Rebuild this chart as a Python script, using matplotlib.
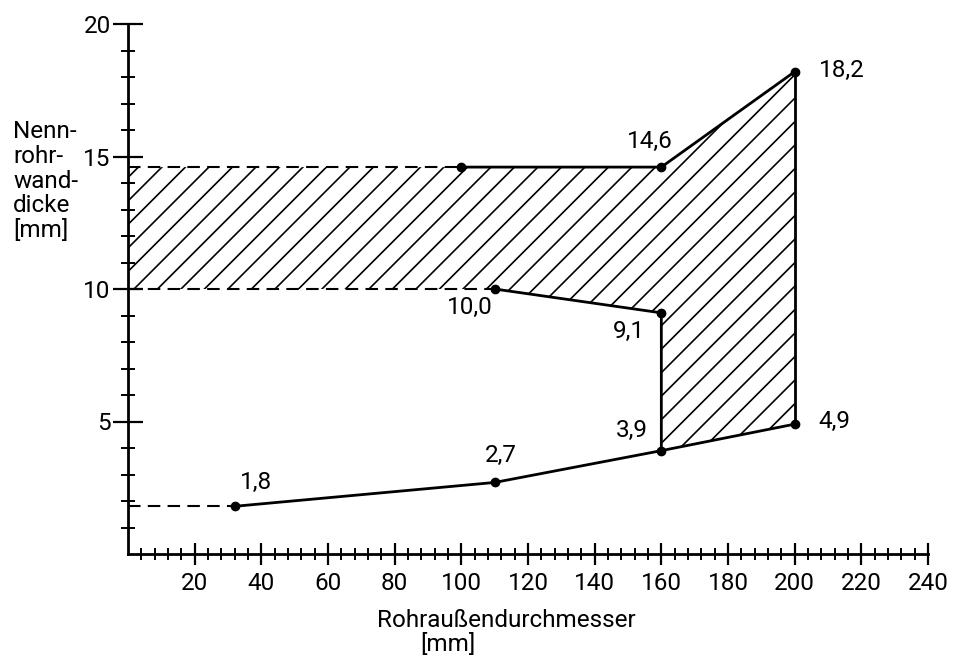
import numpy as np
import matplotlib
matplotlib.use("Agg")
import matplotlib.pyplot as plt
from matplotlib.patches import Polygon

plt.rcParams['font.family'] = ['Roboto', 'DejaVu Sans']
FS = 17.5

# ---- data ----
upper_x = [100, 160, 200]
upper_y = [14.6, 14.6, 18.2]
mid_x = [110, 160]
mid_y = [10.0, 9.1]
low_x = [32, 110, 160, 200]
low_y = [1.8, 2.7, 3.9, 4.9]

x_ticks = list(range(20, 241, 20))
y_ticks = [5, 10, 15, 20]
y_label = "Nenn-\nrohr-\nwand-\ndicke\n[mm]"
x_label = "Rohraußendurchmesser"
x_unit = "[mm]"

def fmt(v):
    return f"{v:.1f}".replace('.', ',')

# ---- figure ----
fig = plt.figure(figsize=(9.6, 6.57), dpi=100)
ax = fig.add_axes([128/960, 1 - 554/657, 800/960, 530/657])
ax.set_xlim(0, 240)
ax.set_ylim(0, 20)
ax.spines['top'].set_visible(False)
ax.spines['right'].set_visible(False)
ax.spines['left'].set_linewidth(2.0)
ax.spines['bottom'].set_linewidth(2.0)
ax.patch.set_alpha(0)

ax.set_xticks(x_ticks)
ax.set_xticks(np.arange(4, 240, 4), minor=True)
ax.set_yticks(y_ticks)
ax.set_yticks(np.arange(1, 20, 1), minor=True)
ax.set_xticklabels([str(t) for t in x_ticks])
ax.set_yticklabels([str(t) for t in y_ticks])
ax.tick_params(axis='x', which='major', direction='inout', length=16, width=1.6,
               labelsize=FS, pad=5)
ax.tick_params(axis='x', which='minor', direction='inout', length=8.5, width=1.4)
ax.tick_params(axis='y', which='major', direction='inout', length=21, width=1.6,
               labelsize=FS, pad=2)
ax.tick_params(axis='y', which='minor', direction='inout', length=10, width=1.4)

lw = 2.0
dash = dict(linestyle=(0, (6, 3.5)), color='black', linewidth=1.5)

# dashed extensions
ax.plot([0, upper_x[0]], [upper_y[0], upper_y[0]], **dash)
ax.plot([0, mid_x[0]], [mid_y[0], mid_y[0]], **dash)
ax.plot([0, low_x[0]], [low_y[0], low_y[0]], **dash)

# solid curves
ax.plot(upper_x, upper_y, color='black', lw=lw)
ax.plot(mid_x + [mid_x[-1]], mid_y + [low_y[2]], color='black', lw=lw)
ax.plot(low_x, low_y, color='black', lw=lw)
ax.plot([upper_x[-1], low_x[-1]], [upper_y[-1], low_y[-1]], color='black', lw=lw)

# markers
mx = upper_x + mid_x + low_x
my = upper_y + mid_y + low_y
ax.plot(mx, my, 'o', color='black', markersize=6, zorder=5)

# hatched region
poly_x = [0] + upper_x + [low_x[-1], low_x[2]] + mid_x[::-1] + [0]
poly_y = [upper_y[0]] + upper_y + [low_y[-1], low_y[2]] + mid_y[::-1] + [mid_y[0]]
poly = Polygon(np.column_stack([poly_x, poly_y]), closed=True, facecolor='none',
               edgecolor='none', transform=ax.transData)
ax.add_patch(poly)

disp = ax.transData.transform(np.column_stack([poly_x, poly_y]))
dmin = disp.min(axis=0)
dmax = disp.max(axis=0)
spacing = 23.5  # pixels, horizontal
c0 = disp[-1, 0] + 6 - disp[-1, 1]
cs_lo = dmin[0] - dmax[1]
cs_hi = dmax[0] - dmin[1]
k0 = int(np.floor((cs_lo - c0) / spacing))
k1 = int(np.ceil((cs_hi - c0) / spacing))
inv = ax.transData.inverted()
for k in range(k0, k1 + 1):
    c = c0 + k * spacing
    ys = np.array([dmin[1] - 5, dmax[1] + 5])
    xs = ys + c
    pts = inv.transform(np.column_stack([xs, ys]))
    ln, = ax.plot(pts[:, 0], pts[:, 1], color='black', lw=1.2)
    ln.set_clip_path(poly)

# point labels (offsets in points)
labels = [
    (upper_x[1], upper_y[1], fmt(upper_y[1]), (-8.6, 18.7), 'center', 'center'),
    (upper_x[2], upper_y[2], fmt(upper_y[2]), (17.3, 0.7), 'left', 'center'),
    (mid_x[0], mid_y[0], fmt(mid_y[0]), (-1.4, -13), 'right', 'center'),
    (mid_x[1], mid_y[1], fmt(mid_y[1]), (-11.5, -13.7), 'right', 'center'),
    (low_x[0], low_y[0], fmt(low_y[0]), (15, 17.3), 'center', 'center'),
    (low_x[1], low_y[1], fmt(low_y[1]), (4.3, 19.4), 'center', 'center'),
    (low_x[2], low_y[2], fmt(low_y[2]), (-9.4, 14.4), 'right', 'center'),
    (low_x[3], low_y[3], fmt(low_y[3]), (17.3, 2.2), 'left', 'center'),
]
for x, y, s, off, ha, va in labels:
    ax.annotate(s, (x, y), xytext=off, textcoords='offset points',
                ha=ha, va=va, fontsize=FS)

fig.text(13/960, 1 - 120/657, y_label, ha='left', va='top', fontsize=FS,
         linespacing=1.1)
fig.text(506/960, 1 - 627/657, x_label, ha='center', va='baseline', fontsize=FS)
fig.text(448/960, 1 - 651/657, x_unit, ha='center', va='baseline', fontsize=FS)

fig.savefig("out.png", dpi=100)
